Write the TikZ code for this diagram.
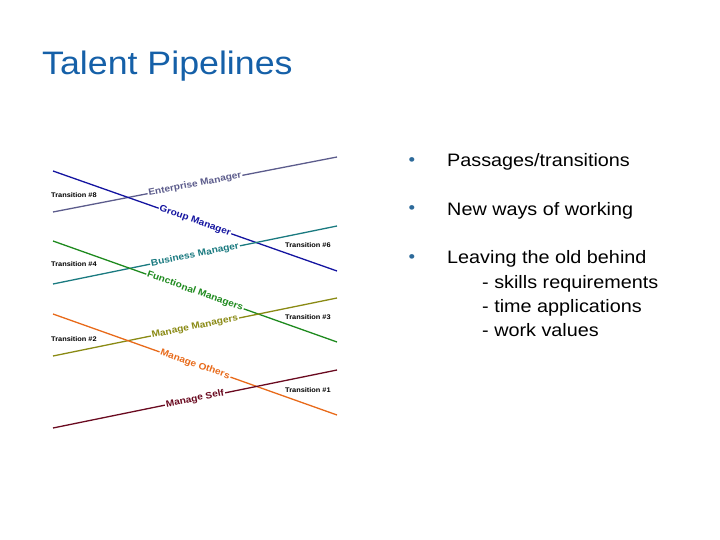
\documentclass[tikz,border=0pt]{standalone}
\usepackage{fontspec}
\setmainfont{Liberation Sans}[FakeStretch=1.1]
\usetikzlibrary{positioning}
\definecolor{titleblue}{HTML}{1560A8}
\definecolor{bulletblue}{HTML}{2D6A9A}
\definecolor{entcol}{HTML}{5C5C8C}
\definecolor{grpcol}{HTML}{1414A0}
\definecolor{buscol}{HTML}{1A7A80}
\definecolor{funcol}{HTML}{1E8A1E}
\definecolor{mgmcol}{HTML}{8A8A14}
\definecolor{othcol}{HTML}{E86A1A}
\definecolor{slfcol}{HTML}{6A0A20}

\begin{document}
\begin{tikzpicture}[
  x=1pt,
  y=-1pt,
  pipe/.style={line width=1.3pt},
  rung/.style={font=\fontsize{9.2}{10}\selectfont\bfseries, fill=white,
               inner xsep=1pt, inner ysep=0.3pt, sloped},
  passage/.style={font=\fontsize{6.7}{7}\selectfont\bfseries, anchor=west,
                  inner sep=0pt},
  point/.style={font=\fontsize{18}{24}\selectfont, anchor=base west,
                inner sep=0pt},
  dot/.style={text=bulletblue, font=\fontsize{17}{17}\selectfont,
              anchor=base, inner sep=0pt}
]
  % ---- page --------------------------------------------------------------
  \useasboundingbox (0,0) rectangle (720,540);

  % ---- title -------------------------------------------------------------
  \node[anchor=base west, inner sep=0pt, text=titleblue,
        font=\fontsize{32.5}{36}\selectfont] (title) at (42,75)
    {Talent Pipelines};

  % ---- ends of the pipeline rungs ----------------------------------------
  \coordinate (ent-a) at (53,212);  \coordinate (ent-b) at (337,157);
  \coordinate (grp-a) at (53,171);  \coordinate (grp-b) at (337,271);
  \coordinate (bus-a) at (53,284);  \coordinate (bus-b) at (337,226);
  \coordinate (fun-a) at (53,241);  \coordinate (fun-b) at (337,342);
  \coordinate (mgm-a) at (53,356);  \coordinate (mgm-b) at (337,298);
  \coordinate (oth-a) at (53,314);  \coordinate (oth-b) at (337,415);
  \coordinate (slf-a) at (53,428);  \coordinate (slf-b) at (337,370);

  % ---- the rungs ---------------------------------------------------------
  \draw[pipe, entcol] (ent-a) -- node[rung] (ent-lbl) {Enterprise Manager} (ent-b);
  \draw[pipe, grpcol] (grp-a) -- node[rung] (grp-lbl) {Group Manager} (grp-b);
  \draw[pipe, buscol] (bus-a) -- node[rung] (bus-lbl) {Business Manager} (bus-b);
  \draw[pipe, funcol] (fun-a) -- node[rung] (fun-lbl) {Functional Managers} (fun-b);
  \draw[pipe, mgmcol] (mgm-a) -- node[rung] (mgm-lbl) {Manage Managers} (mgm-b);
  \draw[pipe, othcol] (oth-a) -- node[rung] (oth-lbl) {Manage Others} (oth-b);
  \draw[pipe, slfcol] (slf-a) -- node[rung] (slf-lbl) {Manage Self} (slf-b);

  % ---- transitions -------------------------------------------------------
  \node[passage] (tr8) at (51,195) {Transition \#8};
  \node[passage] (tr4) at (51,264) {Transition \#4};
  \node[passage] (tr2) at (51,339) {Transition \#2};
  \node[passage] (tr6) at (285,245) {Transition \#6};
  \node[passage] (tr3) at (285,317) {Transition \#3};
  \node[passage] (tr1) at (285,390) {Transition \#1};

  % ---- points on the right -----------------------------------------------
  \node[point] (pt-pass) at (447,167) {Passages/transitions};
  \node[point] (pt-new)  at (447,215) {New ways of working};
  \node[point] (pt-old)  at (447,263) {Leaving the old behind};
  \node[point] (pt-skl)  at (482,288) {- skills requirements};
  \node[point] (pt-tim)  at (482,312) {- time applications};
  \node[point] (pt-val)  at (482,336) {- work values};

  \node[dot] (dot-pass) at (412,166) {•};
  \node[dot] (dot-new)  at (412,214) {•};
  \node[dot] (dot-old)  at (412,262) {•};

\end{tikzpicture}
\end{document}
